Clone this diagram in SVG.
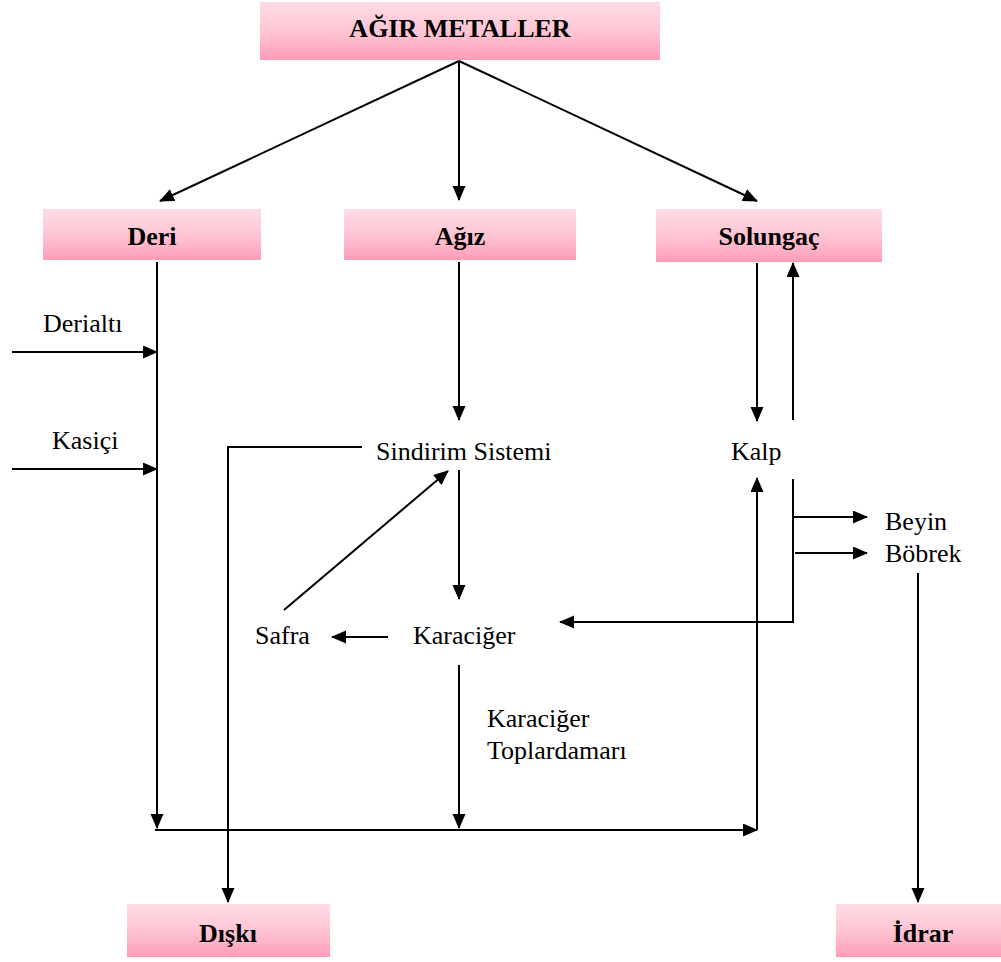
<svg xmlns="http://www.w3.org/2000/svg" width="1001" height="962" viewBox="0 0 1001 962">
<defs>
<linearGradient id="pink" x1="0" y1="0" x2="0" y2="1">
<stop offset="0" stop-color="#ffdde6"/>
<stop offset="0.55" stop-color="#ffc2d2"/>
<stop offset="1" stop-color="#ff9cb8"/>
</linearGradient>
<marker id="arr" markerUnits="userSpaceOnUse" markerWidth="16" markerHeight="14" refX="14" refY="6.5" orient="auto">
<path d="M0,0 L15,6.5 L0,13 z" fill="#000"/>
</marker>
<style>
.box{fill:url(#pink);}
.bt{font-family:"Liberation Serif","Times New Roman",serif;font-weight:bold;font-size:26px;fill:#000;text-anchor:middle;}
.t{font-family:"Liberation Serif","Times New Roman",serif;font-size:26px;fill:#000;}
.c{fill:none;stroke:#000;stroke-width:2;}
.a{marker-end:url(#arr);}
</style>
</defs>
<rect width="1001" height="962" fill="#fff"/>
<g id="agir-metaller"><rect class="box" x="260" y="2" width="400" height="58"/><text class="bt" x="460" y="37">AĞIR METALLER</text></g>
<g id="deri"><rect class="box" x="43" y="209" width="218" height="51"/><text class="bt" x="152" y="245">Deri</text></g>
<g id="agiz"><rect class="box" x="344" y="209" width="232" height="51"/><text class="bt" x="460" y="245">Ağız</text></g>
<g id="solungac"><rect class="box" x="656" y="209" width="226" height="53"/><text class="bt" x="769" y="245">Solungaç</text></g>
<g id="diski"><rect class="box" x="127" y="904" width="203" height="53"/><text class="bt" x="228" y="942">Dışkı</text></g>
<g id="idrar"><rect class="box" x="836" y="904" width="165" height="53"/><text class="bt" x="923" y="942">İdrar</text></g>
<g id="derialti"><text class="t" x="43" y="332">Derialtı</text></g>
<g id="kasici"><text class="t" x="52" y="449">Kasiçi</text></g>
<g id="sindirim"><text class="t" x="376" y="460">Sindirim Sistemi</text></g>
<g id="safra"><text class="t" x="255" y="644">Safra</text></g>
<g id="karaciger"><text class="t" x="413" y="644">Karaciğer</text></g>
<g id="kalp"><text class="t" x="731" y="460">Kalp</text></g>
<g id="beyin"><text class="t" x="885" y="530">Beyin</text></g>
<g id="bobrek"><text class="t" x="885" y="562">Böbrek</text></g>
<g id="toplardamar"><text class="t" x="487" y="727">Karaciğer</text><text class="t" x="487" y="759">Toplardamarı</text></g>
<g id="connectors">
<line class="c a" x1="459" y1="61" x2="160" y2="201"/>
<line class="c a" x1="459" y1="61" x2="459" y2="200"/>
<line class="c a" x1="459" y1="61" x2="757" y2="201"/>
<line class="c a" x1="157" y1="262" x2="157" y2="828"/>
<line class="c a" x1="12" y1="352" x2="157" y2="352"/>
<line class="c a" x1="12" y1="469" x2="157" y2="469"/>
<line class="c a" x1="155" y1="830" x2="757" y2="830"/>
<polyline class="c a" points="757,830 757,478"/>
<line class="c a" x1="459" y1="262" x2="459" y2="420"/>
<polyline class="c a" points="362,447 228,447 228,902"/>
<line class="c a" x1="459" y1="470" x2="459" y2="599"/>
<line class="c a" x1="284" y1="610" x2="448" y2="471"/>
<line class="c a" x1="388" y1="637" x2="332" y2="637"/>
<line class="c a" x1="459" y1="665" x2="459" y2="828"/>
<line class="c a" x1="757" y1="263" x2="757" y2="421"/>
<line class="c a" x1="793" y1="420" x2="793" y2="263"/>
<polyline class="c a" points="793,479 793,622 560,622"/>
<line class="c a" x1="793" y1="517" x2="867" y2="517"/>
<line class="c a" x1="795" y1="553" x2="867" y2="553"/>
<line class="c a" x1="918" y1="573" x2="918" y2="902"/>
</g>
</svg>
